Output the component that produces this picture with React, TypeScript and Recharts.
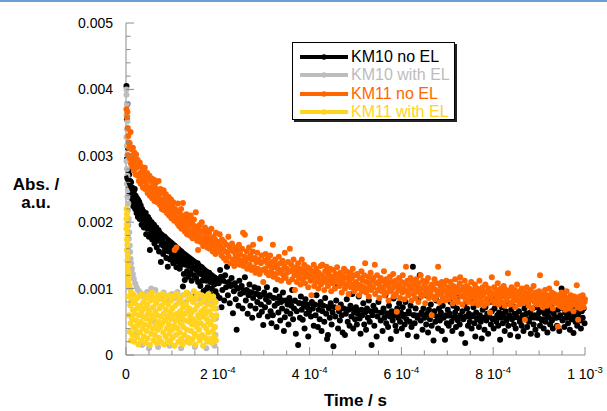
import { ScatterChart, Scatter, XAxis, YAxis } from 'recharts';

// time in µs, absorbance in mAU (axis labels show s and a.u.)
const km10NoEL: [number, number][] = [
  [1, 4.05], [3, 3.78], [2, 3.55], [4, 3.12], [2, 2.95], [5, 2.78], [3, 2.66], [6, 2.5], [7, 2.72], [8, 2.44],
  [9, 2.62], [10, 2.38], [11, 2.6], [12, 2.45], [13, 2.3], [14, 2.52], [15, 2.36], [16, 2.24], [17, 2.46], [18, 2.3],
  [19, 2.5], [20, 2.2], [21, 2.4], [22, 2.28], [23, 2.14], [24, 2.36], [25, 2.22], [26, 2.08], [27, 2.33], [28, 2.18],
  [29, 2.3], [30, 2.05], [32, 2.25], [33, 2.1], [34, 1.96], [35, 2.2], [37, 2.04], [38, 2.16], [39, 1.92], [40, 2.1],
  [42, 1.98], [43, 2.14], [44, 1.82], [45, 2.02], [47, 1.9], [48, 2.08], [49, 1.96], [50, 1.78], [51, 2.04], [52, 1.58],
  [53, 1.92], [55, 1.84], [56, 2.0], [57, 1.74], [58, 1.9], [60, 1.8], [61, 1.96], [62, 1.68], [63, 1.86], [65, 1.76],
  [66, 1.92], [67, 1.62], [68, 1.82], [70, 1.72], [71, 1.88], [72, 1.56], [74, 1.76], [76, 1.4], [77, 1.8], [78, 1.66],
  [80, 1.74], [81, 1.52], [82, 1.64], [84, 1.78], [85, 1.58], [86, 1.68], [88, 1.46], [89, 1.62], [91, 1.33], [92, 1.7],
  [93, 1.56], [95, 1.64], [96, 1.44], [97, 1.58], [99, 1.68], [100, 1.5], [102, 1.6], [103, 1.38], [104, 1.54], [106, 1.64],
  [107, 1.44], [108, 1.56], [110, 1.32], [111, 1.5], [113, 1.6], [114, 1.4], [115, 1.52], [117, 1.3], [118, 1.46], [120, 1.56],
  [121, 1.36], [123, 1.48], [124, 1.03], [125, 1.4], [126, 1.22], [127, 1.5], [128, 1.13], [130, 1.36], [131, 1.44], [133, 1.26],
  [134, 1.4], [136, 1.18], [137, 1.34], [139, 1.44], [140, 1.24], [142, 1.36], [143, 1.12], [145, 1.3], [146, 1.4], [148, 1.2],
  [150, 0.88], [151, 1.32], [153, 1.16], [154, 1.28], [156, 1.38], [157, 1.1], [159, 1.24], [160, 1.3], [162, 1.04], [163, 1.22],
  [165, 1.32], [166, 1.12], [168, 1.2], [169, 0.96], [171, 1.16], [172, 1.26], [174, 0.98], [175, 1.12], [177, 1.22], [178, 1.02],
  [180, 1.14], [181, 1.24], [183, 0.92], [184, 1.1], [186, 1.18], [187, 1.0], [189, 1.12], [190, 0.84], [192, 1.06], [193, 1.16],
  [195, 0.96], [196, 1.08], [198, 0.9], [199, 1.12],
  [202, 1.08], [204, 0.86], [205, 1.28], [207, 1.18], [208, 0.72], [210, 0.98], [212, 1.12], [214, 0.82], [216, 1.2], [218, 1.02],
  [220, 1.33], [222, 0.9], [224, 1.1], [226, 0.78], [228, 1.04], [230, 1.16], [233, 0.63], [235, 0.96], [237, 1.08], [239, 0.84],
  [241, 0.38], [243, 1.0], [245, 0.74], [247, 1.12], [249, 0.92], [252, 1.04], [254, 0.7], [256, 0.94], [259, 1.17], [261, 0.82],
  [263, 0.98], [265, 0.62], [267, 0.9], [269, 1.06], [271, 0.74], [273, 0.94], [275, 0.56], [277, 0.86], [280, 1.02], [282, 0.7],
  [284, 0.92], [286, 0.8], [288, 1.0], [290, 0.6], [292, 0.88], [294, 0.76], [296, 0.65], [299, 0.45],
  [301, 0.94], [303, 0.72], [305, 0.84], [307, 1.02], [309, 0.58], [311, 0.8], [313, 0.9], [315, 0.66], [317, 0.48], [320, 0.6],
  [322, 0.86], [324, 0.74], [326, 0.98], [328, 0.42], [330, 0.78], [332, 0.64], [334, 0.88], [336, 0.52], [338, 0.8], [340, 0.7],
  [342, 0.94], [344, 0.36], [346, 0.57], [348, 0.82], [350, 0.66], [352, 0.76], [354, 0.46], [356, 0.86], [358, 0.62], [360, 0.74],
  [362, 0.98], [364, 0.54], [366, 0.7], [368, 0.82], [370, 0.32], [372, 0.66], [375, 0.15], [377, 0.78], [379, 0.56], [381, 0.88],
  [383, 0.68], [385, 0.53], [387, 0.74], [389, 0.4], [391, 0.84], [393, 0.62], [395, 0.72], [397, 0.28], [399, 0.66], [401, 1.17],
  [403, 0.58], [405, 0.8], [407, 0.7], [409, 0.44], [411, 0.76], [413, 0.6], [415, 0.9], [418, 0.42], [420, 0.68], [422, 0.54],
  [424, 0.8], [426, 0.36], [428, 0.66], [430, 0.74], [432, 0.5], [434, 0.86], [436, 0.62], [438, 0.24], [440, 0.3], [442, 0.7],
  [444, 0.56], [446, 0.78], [448, 0.46], [450, 0.64], [452, 0.13], [454, 0.72], [456, 0.58], [458, 0.82], [460, 1.08], [462, 0.4],
  [464, 0.66], [466, 0.52], [468, 0.76], [470, 0.6], [472, 0.34], [474, 0.7], [477, 0.3], [479, 0.62], [481, 0.84], [483, 0.5],
  [485, 0.68], [487, 0.44], [489, 0.74], [491, 0.58], [493, 0.92], [495, 0.4], [497, 0.64], [499, 0.54],
  [501, 0.72], [503, 0.46], [505, 0.62], [507, 0.88], [509, 0.55], [511, 0.32], [513, 0.68], [515, 0.6], [517, 0.78], [519, 0.46],
  [521, 0.64], [523, 0.38], [525, 0.7], [527, 0.56], [529, 0.82], [531, 0.5], [533, 0.66], [535, 0.15], [537, 0.6], [539, 0.74],
  [541, 0.44], [543, 0.68], [546, 0.28], [548, 0.58], [550, 0.8], [553, 0.98], [555, 0.52], [557, 0.64], [559, 0.36], [561, 0.7],
  [563, 0.56], [565, 0.9], [567, 0.48], [569, 0.62], [571, 0.42], [573, 0.74], [575, 0.58], [577, 0.24], [579, 0.66], [581, 0.52],
  [583, 0.85], [585, 0.6], [587, 0.44], [589, 0.36], [591, 0.7], [593, 0.56], [595, 0.78], [597, 0.5], [599, 0.64], [601, 0.4],
  [603, 0.72], [605, 0.58], [607, 0.46], [609, 0.8], [611, 0.54], [614, 0.3], [616, 0.66], [618, 0.5], [620, 0.74], [622, 0.42],
  [625, 1.33], [627, 0.6], [629, 0.48], [631, 0.7], [633, 0.28], [635, 0.56], [637, 0.84], [640, 1.2], [642, 0.52], [644, 0.64],
  [646, 0.38], [648, 0.7], [650, 0.56], [652, 0.9], [654, 0.46], [656, 0.62], [658, 0.34], [660, 0.68], [662, 0.54], [664, 0.76],
  [666, 0.44], [668, 0.6], [670, 0.22], [672, 0.66], [674, 0.5], [676, 0.82], [678, 0.58], [680, 0.4], [682, 0.7], [684, 0.52],
  [686, 0.64], [688, 0.36], [690, 0.74], [692, 0.56], [695, 0.23], [697, 0.6], [699, 0.48],
  [701, 0.68], [703, 0.44], [705, 0.62], [707, 0.8], [709, 0.5], [711, 0.36], [713, 0.74], [715, 0.56], [717, 0.64], [719, 0.42],
  [721, 0.7], [723, 0.52], [725, 0.88], [727, 0.46], [729, 0.6], [731, 0.32], [733, 0.66], [735, 0.54], [737, 0.76], [739, 0.18],
  [741, 0.58], [743, 0.7], [745, 0.44], [747, 0.62], [749, 0.5], [751, 0.82], [753, 0.4], [755, 0.6], [757, 0.72], [759, 0.48],
  [761, 0.28], [763, 0.64], [765, 0.54], [767, 0.76], [769, 0.42], [771, 0.6], [773, 0.5], [775, 0.25], [777, 0.68], [779, 0.56],
  [781, 0.38], [783, 0.72], [785, 0.52], [787, 0.62], [789, 0.32], [791, 0.58], [793, 0.8], [795, 0.46], [797, 0.66], [799, 0.54],
  [801, 0.4], [803, 0.7], [805, 0.86], [807, 0.5], [809, 0.6], [811, 0.44], [813, 0.64], [815, 0.23], [817, 0.56], [819, 0.72],
  [821, 0.48], [823, 0.62], [825, 0.36], [827, 0.66], [829, 0.52], [831, 0.78], [833, 0.44], [835, 0.6], [837, 0.3], [839, 0.68],
  [841, 0.54], [843, 0.74], [845, 0.46], [847, 0.62], [849, 0.4], [851, 0.58], [854, 0.28], [856, 0.66], [858, 0.5], [860, 0.8],
  [862, 0.44], [864, 0.6], [866, 0.36], [868, 0.7], [870, 0.54], [872, 0.62], [874, 0.42], [876, 0.76], [878, 0.5], [880, 0.64],
  [882, 0.32], [884, 0.58], [886, 0.7], [888, 0.46], [890, 0.6], [892, 0.38], [894, 0.72], [896, 0.3], [898, 0.56], [900, 0.64],
  [902, 0.44], [904, 0.68], [906, 0.52], [908, 0.78], [910, 0.4], [912, 0.62], [914, 0.5], [916, 0.7], [918, 0.34], [920, 0.58],
  [922, 0.66], [924, 0.46], [926, 0.74], [928, 0.52], [930, 0.4], [932, 0.62], [935, 0.86], [937, 0.56], [939, 0.44], [941, 0.68],
  [944, 0.36], [946, 0.6], [949, 1.0], [951, 0.52], [953, 0.7], [955, 0.42], [957, 0.64], [959, 0.56], [961, 0.78], [963, 0.48],
  [965, 0.6], [967, 0.38], [969, 0.66], [971, 0.54], [973, 0.72], [975, 0.33], [977, 0.6], [979, 0.5], [981, 0.68], [983, 0.44],
  [985, 0.62], [987, 0.76], [989, 0.52], [991, 0.4], [993, 0.66], [995, 0.56], [997, 0.7], [999, 0.48],
];

const km10Fit: [number, number][] = [
  [0, 2.7], [5, 2.6], [10, 2.52], [20, 2.38], [30, 2.25], [50, 2.02], [75, 1.85], [100, 1.7], [125, 1.55], [150, 1.42],
  [175, 1.28], [200, 1.15], [250, 1.0], [300, 0.9], [350, 0.82], [400, 0.77], [500, 0.68], [600, 0.62], [700, 0.58],
  [800, 0.56], [900, 0.55], [1000, 0.56],
];

const km10WithEL: [number, number][] = [
  [1, 4.0], [1, 3.92], [2, 3.78], [1, 3.62], [3, 3.52], [2, 3.4], [1, 3.28], [2, 3.15], [3, 3.02], [1, 2.92],
  [2, 2.8], [3, 2.7], [2, 2.58], [4, 2.48], [3, 2.38], [5, 2.28], [4, 2.18], [6, 2.05], [5, 1.95], [7, 1.85],
  [6, 1.75], [8, 1.65], [9, 1.55], [10, 1.45], [11, 1.38], [13, 1.3], [15, 1.22], [17, 1.15], [20, 1.08], [23, 1.02],
  [26, 0.98], [30, 0.95], [35, 0.92], [40, 0.88], [46, 0.95], [52, 0.9], [55, 1.0], [60, 0.86], [64, 0.98], [70, 0.9],
  [76, 0.85], [82, 0.94], [88, 0.88], [94, 0.82], [100, 0.92], [106, 0.86], [112, 0.95], [118, 0.84], [124, 0.9], [130, 0.8],
  [136, 0.92], [142, 0.86], [148, 0.82], [154, 0.9], [160, 0.84], [166, 0.88], [172, 0.8], [178, 0.86], [184, 0.78], [190, 0.84],
  [195, 0.8], [20, 0.3], [35, 0.15], [50, 0.1], [70, 0.12], [95, 0.14], [120, 0.1], [150, 0.12], [175, 0.1], [193, 0.14],
  [195, 0.3], [196, 0.55], [197, 0.7], [60, 0.5], [120, 0.5], [180, 0.5],
];

const km11NoEL: [number, number][] = [
  [1, 3.7], [2, 3.58], [3, 3.66], [4, 3.42], [5, 3.3], [4, 3.01], [6, 3.2], [7, 3.12], [8, 3.19], [9, 2.96],
  [10, 3.36], [11, 2.88], [12, 3.1], [13, 3.0], [14, 2.84], [15, 3.12], [16, 2.92], [17, 2.78], [18, 3.05], [19, 2.86],
  [20, 2.96], [21, 2.72], [22, 3.02], [23, 2.82], [25, 2.94], [26, 2.7], [27, 2.86], [28, 2.62], [30, 2.9], [31, 2.74],
  [32, 2.58], [33, 2.84], [35, 2.66], [36, 2.8], [37, 2.52], [38, 2.74], [40, 2.62], [41, 2.82], [42, 2.5], [43, 2.7],
  [45, 2.56], [46, 2.74], [47, 2.44], [48, 2.64], [50, 2.52], [51, 2.7], [52, 2.4], [54, 2.62], [55, 2.48], [56, 2.66],
  [57, 2.36], [59, 2.56], [60, 2.44], [61, 2.64], [62, 2.32], [64, 2.52], [65, 2.4], [66, 2.6], [68, 2.3], [69, 2.48],
  [70, 2.36], [71, 2.62], [73, 2.42], [74, 2.26], [75, 2.5], [77, 2.34], [78, 2.2], [79, 2.44], [81, 2.3], [82, 2.48],
  [83, 2.18], [85, 2.36], [86, 2.24], [87, 2.42], [89, 2.14], [90, 2.32], [91, 2.2], [93, 2.38], [94, 2.1], [95, 2.26],
  [97, 2.16], [98, 2.34], [99, 2.06], [101, 2.24], [102, 2.12], [103, 2.3], [105, 2.02], [106, 1.58], [107, 2.2], [108, 2.08],
  [110, 1.62], [111, 2.16], [112, 1.98], [113, 2.28], [115, 2.06], [116, 1.94], [117, 2.14], [119, 2.0], [120, 2.2], [121, 1.9],
  [123, 2.08], [124, 2.29], [125, 1.96], [127, 2.1], [128, 1.86], [129, 2.02], [131, 1.92], [132, 2.12], [133, 1.82], [135, 2.0],
  [136, 1.88], [137, 2.06], [139, 1.8], [140, 1.96], [141, 2.1], [143, 1.84], [144, 1.98], [145, 1.76], [147, 1.92], [148, 2.04],
  [150, 1.8], [151, 1.94], [152, 2.15], [154, 1.86], [155, 1.72], [157, 1.58], [158, 1.9], [160, 1.78], [161, 1.96], [163, 1.7],
  [164, 1.86], [165, 2.0], [167, 1.76], [168, 1.64], [170, 1.84], [171, 1.72], [172, 1.92], [174, 1.68], [175, 1.8], [177, 1.62],
  [178, 1.88], [179, 1.74], [181, 1.84], [182, 1.6], [184, 1.76], [185, 1.66], [186, 1.9], [188, 1.7], [189, 1.56], [191, 1.78],
  [192, 1.64], [194, 1.74], [195, 1.52], [196, 1.84], [198, 1.66], [199, 1.58],
  [201, 1.7], [203, 1.56], [204, 1.82], [206, 1.64], [208, 1.5], [209, 1.74], [211, 1.6], [213, 1.46], [214, 1.7], [216, 1.56],
  [218, 1.42], [219, 1.66], [221, 1.54], [223, 1.78], [224, 1.48], [226, 1.62], [228, 1.38], [229, 1.58], [231, 1.68], [233, 1.44],
  [234, 1.56], [236, 1.34], [238, 1.62], [239, 1.5], [241, 1.4], [243, 1.58], [244, 1.46], [246, 1.66], [248, 1.36], [249, 1.52],
  [251, 1.42], [253, 1.6], [255, 1.84], [256, 1.34], [258, 1.48], [259, 1.81], [261, 1.4], [263, 1.56], [264, 1.3], [266, 1.46],
  [268, 1.62], [269, 1.36], [271, 1.5], [273, 1.28], [274, 1.44], [276, 1.56], [277, 1.66], [279, 1.32], [281, 1.46], [282, 1.24],
  [284, 1.4], [286, 1.54], [287, 1.3], [289, 1.44], [291, 1.22], [292, 1.75], [294, 1.38], [296, 1.5], [297, 1.28], [299, 1.1],
  [301, 1.42], [303, 1.3], [304, 1.52], [306, 1.24], [308, 1.38], [309, 1.46], [311, 1.2], [313, 1.34], [314, 1.5], [316, 1.26],
  [318, 1.4], [320, 1.66], [321, 1.18], [323, 1.32], [325, 1.44], [326, 1.22], [328, 1.36], [330, 1.14], [331, 1.3], [333, 1.48],
  [335, 1.24], [336, 1.38], [338, 1.12], [340, 1.28], [341, 1.42], [343, 1.2], [345, 1.34], [346, 1.54], [348, 1.16], [350, 1.3],
  [351, 1.24], [353, 1.4], [355, 1.1], [357, 1.6], [358, 1.26], [360, 1.36], [362, 1.14], [363, 1.28], [365, 1.44], [367, 1.2],
  [368, 0.98], [370, 1.32], [372, 1.1], [373, 1.24], [375, 1.38], [377, 1.16], [378, 1.3], [380, 1.06], [382, 1.22], [383, 1.44],
  [385, 1.14], [387, 1.28], [388, 1.36], [390, 1.08], [392, 1.24], [393, 1.18], [395, 1.32], [397, 1.02], [398, 1.2], [400, 1.3],
  [402, 1.12], [404, 0.9], [405, 1.26], [407, 1.16], [409, 1.36], [410, 1.04], [412, 1.22], [414, 1.1], [415, 1.3], [417, 1.18],
  [419, 1.0], [420, 1.24], [422, 1.12], [424, 1.34], [425, 1.06], [427, 1.2], [428, 1.36], [430, 1.14], [432, 0.98], [434, 1.26],
  [435, 1.1], [437, 1.33], [439, 1.18], [440, 1.04], [442, 1.22], [444, 1.12], [445, 1.3], [447, 0.96], [449, 1.18], [450, 1.08],
  [452, 1.28], [454, 1.14], [455, 1.0], [457, 1.22], [459, 1.1], [460, 1.32], [462, 0.71], [464, 1.16], [465, 1.04], [467, 1.24],
  [469, 1.12], [470, 0.94], [472, 1.2], [474, 1.08], [475, 1.3], [477, 1.0], [479, 1.16], [480, 1.26], [482, 1.06], [484, 1.18],
  [485, 0.92], [487, 1.12], [489, 1.24], [490, 1.02], [492, 1.16], [494, 1.3], [495, 1.06], [497, 0.96], [499, 1.2],
  [501, 1.1], [503, 1.0], [504, 1.22], [506, 1.06], [508, 0.9], [509, 1.16], [511, 1.04], [513, 1.26], [514, 0.96], [516, 1.12],
  [518, 1.02], [519, 1.2], [521, 1.38], [523, 0.94], [524, 1.1], [526, 1.0], [528, 1.18], [529, 0.88], [531, 1.06], [533, 1.24],
  [534, 0.98], [536, 1.12], [538, 1.02], [539, 1.16], [542, 1.36], [543, 0.92], [545, 1.08], [547, 1.2], [548, 0.98], [550, 1.1],
  [552, 0.86], [553, 1.04], [555, 1.16], [557, 0.96], [558, 1.12], [560, 1.0], [562, 1.26], [563, 0.9], [565, 1.06], [567, 1.14],
  [568, 0.94], [570, 1.08], [572, 0.82], [573, 1.02], [575, 1.18], [577, 0.96], [578, 1.1], [580, 1.0], [582, 1.22], [583, 0.88],
  [585, 1.04], [587, 1.12], [588, 0.92], [590, 0.65], [592, 1.06], [593, 0.98], [595, 1.16], [597, 0.86], [598, 1.02], [600, 1.1],
  [602, 0.94], [603, 1.2], [605, 1.0], [607, 0.84], [608, 1.08], [610, 1.33], [612, 0.96], [613, 1.12], [615, 0.9], [617, 1.04],
  [618, 0.98], [620, 1.16], [622, 0.82], [623, 1.0], [625, 1.1], [627, 0.92], [628, 1.06], [630, 0.86], [632, 1.14], [633, 0.96],
  [635, 1.02], [637, 0.8], [638, 1.08], [640, 0.94], [642, 1.2], [643, 0.88], [645, 1.0], [647, 1.12], [648, 0.9], [650, 1.04],
  [652, 0.78], [653, 0.98], [655, 1.1], [657, 0.92], [658, 1.16], [660, 0.86], [662, 1.02], [663, 0.94], [666, 0.6], [667, 1.06],
  [668, 0.88], [670, 1.0], [672, 1.14], [673, 0.84], [675, 0.98], [677, 1.08], [678, 0.9], [680, 1.33], [682, 0.96], [683, 0.8],
  [685, 1.04], [687, 0.92], [688, 1.1], [690, 0.86], [692, 0.98], [693, 1.06], [695, 0.82], [697, 0.96], [698, 1.12],
  [700, 0.9], [702, 1.02], [703, 0.84], [705, 0.96], [707, 1.1], [708, 0.88], [710, 0.98], [712, 0.78], [713, 1.04], [715, 0.92],
  [717, 1.14], [718, 0.86], [720, 0.96], [722, 1.02], [723, 0.8], [725, 0.94], [727, 1.08], [728, 1.17], [730, 0.88], [732, 0.98],
  [733, 0.76], [735, 1.02], [737, 0.9], [738, 1.12], [740, 0.84], [742, 0.96], [743, 1.04], [745, 0.8], [747, 0.92], [748, 1.0],
  [750, 0.86], [752, 1.1], [753, 0.94], [755, 0.78], [757, 0.98], [758, 0.88], [760, 1.06], [762, 0.82], [763, 0.94], [765, 1.0],
  [767, 0.76], [768, 0.9], [770, 1.12], [772, 0.86], [773, 0.96], [775, 0.8], [777, 1.02], [778, 0.9], [780, 0.74], [782, 0.94],
  [783, 1.06], [785, 0.84], [787, 0.96], [788, 0.78], [790, 1.0], [792, 0.88], [793, 0.64], [795, 0.94], [797, 1.17], [798, 0.82],
  [800, 0.92], [802, 1.02], [803, 0.78], [805, 0.9], [807, 0.98], [808, 0.84], [810, 1.08], [812, 0.76], [813, 0.92], [815, 0.86],
  [817, 1.0], [818, 0.8], [820, 0.94], [822, 0.88], [823, 1.04], [825, 0.74], [827, 0.9], [828, 0.98], [830, 0.82], [832, 1.23],
  [833, 0.88], [835, 0.96], [837, 0.76], [838, 0.9], [840, 1.02], [842, 0.8], [843, 0.92], [845, 0.86], [847, 0.98], [848, 0.72],
  [850, 0.88], [852, 1.06], [853, 0.82], [855, 0.92], [857, 0.76], [858, 0.96], [860, 0.84], [862, 1.0], [863, 0.78], [865, 0.9],
  [867, 0.86], [869, 0.53], [870, 0.94], [872, 0.8], [873, 1.02], [875, 0.86], [877, 0.74], [878, 0.92], [880, 0.82], [882, 0.98],
  [883, 0.88], [885, 0.7], [887, 0.9], [888, 1.04], [890, 0.8], [892, 0.86], [893, 0.94], [895, 0.76], [897, 0.88], [898, 0.82],
  [900, 0.96], [902, 1.2], [903, 0.78], [905, 0.9], [907, 0.84], [908, 0.72], [910, 0.92], [912, 0.8], [913, 0.98], [915, 0.86],
  [917, 0.74], [918, 0.9], [920, 0.82], [922, 1.0], [923, 0.76], [925, 0.88], [927, 0.8], [928, 0.94], [930, 0.7], [932, 0.86],
  [933, 0.92], [935, 0.78], [938, 1.08], [939, 0.84], [941, 0.43], [942, 0.9], [944, 0.74], [945, 0.84], [947, 0.8], [949, 0.94],
  [950, 0.72], [952, 0.86], [954, 0.78], [955, 0.9], [957, 0.68], [959, 0.84], [960, 0.96], [962, 0.76], [964, 0.86], [965, 0.7],
  [967, 0.82], [969, 0.9], [970, 0.74], [972, 0.84], [974, 0.8], [975, 0.66], [977, 0.88], [979, 0.76], [980, 0.84], [982, 1.05],
  [984, 0.72], [985, 0.53], [987, 0.8], [989, 0.88], [990, 0.7], [992, 0.82], [994, 0.76], [995, 0.9], [997, 0.72], [999, 0.8],
  [1000, 0.84],
];

const km11WithEL: [number, number][] = [
  [1, 2.2], [2, 2.12], [1, 2.05], [2, 1.97], [1, 1.9], [3, 1.82], [2, 1.74], [3, 1.66], [2, 1.58], [4, 1.5],
  [3, 1.42], [5, 1.35], [4, 1.27], [6, 1.2], [5, 1.12], [7, 1.05], [9, 1.0], [11, 0.95], [14, 0.92],
  [6, 0.88], [7, 0.6], [8, 0.35], [9, 0.75], [10, 0.48], [11, 0.22], [12, 0.82], [13, 0.55], [14, 0.3], [15, 0.68], [16, 0.42],
  [17, 0.9], [18, 0.2], [19, 0.62], [20, 0.78], [21, 0.38], [22, 0.52], [23, 0.85], [24, 0.27], [25, 0.7], [26, 0.45], [27, 0.16], [28, 0.6],
  [29, 0.88], [30, 0.34], [31, 0.74], [32, 0.5], [33, 0.22], [34, 0.66], [35, 0.92], [36, 0.4], [37, 0.58], [38, 0.8], [39, 0.28], [40, 0.46],
  [41, 0.7], [42, 0.18], [43, 0.86], [44, 0.55], [45, 0.36], [46, 0.76], [47, 0.25], [48, 0.62], [49, 0.9], [50, 0.44], [51, 0.68], [52, 0.15],
  [53, 0.52], [54, 0.82], [55, 0.32], [56, 0.6], [57, 0.94], [58, 0.4], [59, 0.72], [60, 0.22], [61, 0.56], [62, 0.86], [63, 0.3], [64, 0.65],
  [65, 0.46], [66, 0.78], [67, 0.18], [68, 0.6], [69, 0.38], [70, 0.9], [71, 0.5], [72, 0.26], [73, 0.7], [74, 0.84], [75, 0.42], [76, 0.58],
  [77, 0.2], [78, 0.74], [79, 0.48], [80, 0.92], [81, 0.34], [82, 0.62], [83, 0.16], [84, 0.8], [85, 0.52], [86, 0.28], [87, 0.68], [88, 0.88],
  [89, 0.4], [90, 0.58], [91, 0.22], [92, 0.76], [93, 0.46], [94, 0.9], [95, 0.32], [96, 0.64], [97, 0.18], [98, 0.54], [99, 0.82], [100, 0.38],
  [101, 0.7], [102, 0.26], [103, 0.6], [104, 0.88], [105, 0.44], [106, 0.14], [107, 0.74], [108, 0.52], [109, 0.3], [110, 0.92], [111, 0.62], [112, 0.4],
  [113, 0.78], [114, 0.2], [115, 0.56], [116, 0.86], [117, 0.34], [118, 0.66], [119, 0.48], [120, 0.24], [121, 0.8], [122, 0.58], [123, 0.16], [124, 0.72],
  [125, 0.42], [126, 0.9], [127, 0.3], [128, 0.62], [129, 0.52], [130, 0.2], [131, 0.76], [132, 0.94], [133, 0.38], [134, 0.66], [135, 0.26], [136, 0.84],
  [137, 0.5], [138, 0.7], [139, 0.18], [140, 0.58], [141, 0.88], [142, 0.36], [143, 0.64], [144, 0.46], [145, 0.24], [146, 0.8], [147, 0.54], [148, 0.96],
  [149, 0.32], [150, 0.68], [151, 0.16], [152, 0.5], [153, 0.86], [154, 0.42], [155, 0.74], [156, 0.28], [157, 0.6], [158, 0.92], [159, 0.38], [160, 0.56],
  [161, 0.22], [162, 0.78], [163, 0.48], [164, 0.66], [165, 0.9], [166, 0.3], [167, 0.58], [168, 0.14], [169, 0.82], [170, 0.44], [171, 0.7], [172, 0.26],
  [173, 0.62], [174, 0.88], [175, 0.4], [176, 0.54], [177, 0.2], [178, 0.76], [179, 0.34], [180, 0.92], [181, 0.5], [182, 0.66], [183, 0.24], [184, 0.84],
  [185, 0.46], [186, 0.6], [187, 0.18], [188, 0.74], [189, 0.36], [190, 0.88], [191, 0.54], [192, 0.28], [193, 0.7], [194, 0.42], [195, 0.8], [196, 0.22], [197, 0.6],
];

const xTicks = [0, 50, 100, 150, 200, 250, 300, 350, 400, 450, 500, 550, 600, 650, 700, 750, 800, 850, 900, 950, 1000];
const xTickLabels: Record<number, [string, string]> = {
  0: ['0', ''],
  200: ['2 10', '-4'],
  400: ['4 10', '-4'],
  600: ['6 10', '-4'],
  800: ['8 10', '-4'],
  1000: ['1 10', '-3'],
};
const yTicks = [0, 0.2, 0.4, 0.6, 0.8, 1, 1.2, 1.4, 1.6, 1.8, 2, 2.2, 2.4, 2.6, 2.8, 3, 3.2, 3.4, 3.6, 3.8, 4, 4.2, 4.4, 4.6, 4.8, 5];
const yTickLabels: Record<number, string> = { 0: '0', 1: '0.001', 2: '0.002', 3: '0.003', 4: '0.004', 5: '0.005' };

const series = [
  { name: 'KM10 no EL', color: '#000000' },
  { name: 'KM10 with EL', color: '#bdbdbd' },
  { name: 'KM11 no EL', color: '#ff6600' },
  { name: 'KM11 with EL', color: '#ffd320' },
];

const FONT = '"Liberation Sans", Arial, Helvetica, sans-serif';
const AXIS = '#8c8c8c';

const toRows = (pts: [number, number][]) => pts.map(([t, a]) => ({ t, a }));

const dot = (color: string) => (props: any) => <circle cx={props.cx} cy={props.cy} r={3} fill={color} />;

function XTick({ x, y, payload }: any) {
  const lab = xTickLabels[payload.value];
  return (
    <g>
      <line x1={x} x2={x} y1={y} y2={y - (lab ? 8 : 4.5)} stroke={AXIS} />
      {lab && (
        <text x={x} y={y + 24} textAnchor="middle" fontSize={14} fill="#000" fontFamily={FONT}>
          {lab[0]}
          {lab[1] && (
            <tspan dy={-6} fontSize={9.5}>
              {lab[1]}
            </tspan>
          )}
        </text>
      )}
    </g>
  );
}

function YTick({ x, y, payload }: any) {
  const lab = yTickLabels[payload.value];
  return (
    <g>
      <line x1={x} x2={x + (lab ? 8 : 4.5)} y1={y} y2={y} stroke={AXIS} />
      {lab && (
        <text x={x - 13} y={y + 5} textAnchor="end" fontSize={14} fill="#000" fontFamily={FONT}>
          {lab}
        </text>
      )}
    </g>
  );
}

function LegendBox() {
  return (
    <div
      style={{
        position: 'absolute',
        left: 292,
        top: 42,
        width: 161,
        height: 76,
        border: '1.5px solid #000',
        boxShadow: '2px 2px 0 #222',
        background: '#fff',
        fontFamily: FONT,
        fontSize: 16,
      }}
    >
      {series.map((s, i) => (
        <div
          key={s.name}
          style={{ position: 'absolute', left: 7, top: 4 + i * 18.5, height: 19, display: 'flex', alignItems: 'center', color: s.color, whiteSpace: 'nowrap' }}
        >
          <svg width={50} height={10} style={{ marginRight: 1 }}>
            <line x1={0} x2={48} y1={5} y2={5} stroke={s.color} strokeWidth={4} />
            <circle cx={24} cy={5} r={2.8} fill={s.color} />
          </svg>
          <span>{s.name}</span>
        </div>
      ))}
    </div>
  );
}

export default function App() {
  return (
    <div style={{ position: 'absolute', left: 0, top: 0, width: 607, height: 411, background: '#fff', overflow: 'hidden' }}>
      <div style={{ position: 'absolute', left: 0, top: 0, width: 607, height: 2, background: '#6a9fd4' }} />
      <ScatterChart width={607} height={411} margin={{ top: 23, right: 22, bottom: 0, left: 0 }}>
        <XAxis
          type="number"
          dataKey="t"
          domain={[0, 1000]}
          ticks={xTicks}
          interval={0}
          tickSize={0}
          tickMargin={0}
          tickLine={false}
          height={56}
          axisLine={{ stroke: AXIS }}
          tick={<XTick />}
          label={{
            content: () => (
              <text x={355.5} y={406} textAnchor="middle" fontSize={17} fontWeight="bold" fontFamily={FONT} fill="#000">
                Time / s
              </text>
            ),
          }}
        />
        <YAxis
          type="number"
          dataKey="a"
          domain={[0, 5]}
          ticks={yTicks}
          interval={0}
          tickSize={0}
          tickMargin={0}
          tickLine={false}
          width={126}
          axisLine={{ stroke: AXIS }}
          tick={<YTick />}
          label={{
            content: () => (
              <g>
                <text x={36} y={190} textAnchor="middle" fontSize={17} fontWeight="bold" fontFamily={FONT} fill="#000">
                  Abs. /
                </text>
                <text x={36} y={208} textAnchor="middle" fontSize={17} fontWeight="bold" fontFamily={FONT} fill="#000">
                  a.u.
                </text>
              </g>
            ),
          }}
        />
        <Scatter name="KM10 no EL" data={toRows(km10NoEL)} shape={dot(series[0].color)} isAnimationActive={false} />
        <Scatter name="KM10 with EL" data={toRows(km10WithEL)} shape={dot(series[1].color)} isAnimationActive={false} />
        <Scatter
          name="KM10 fit"
          data={toRows(km10Fit)}
          line={{ stroke: '#000', strokeWidth: 4 }}
          lineType="joint"
          shape={() => <g />}
          isAnimationActive={false}
        />
        <Scatter name="KM11 no EL" data={toRows(km11NoEL)} shape={dot(series[2].color)} isAnimationActive={false} />
        <Scatter name="KM11 with EL" data={toRows(km11WithEL)} shape={dot(series[3].color)} isAnimationActive={false} />
      </ScatterChart>
      <LegendBox />
    </div>
  );
}
